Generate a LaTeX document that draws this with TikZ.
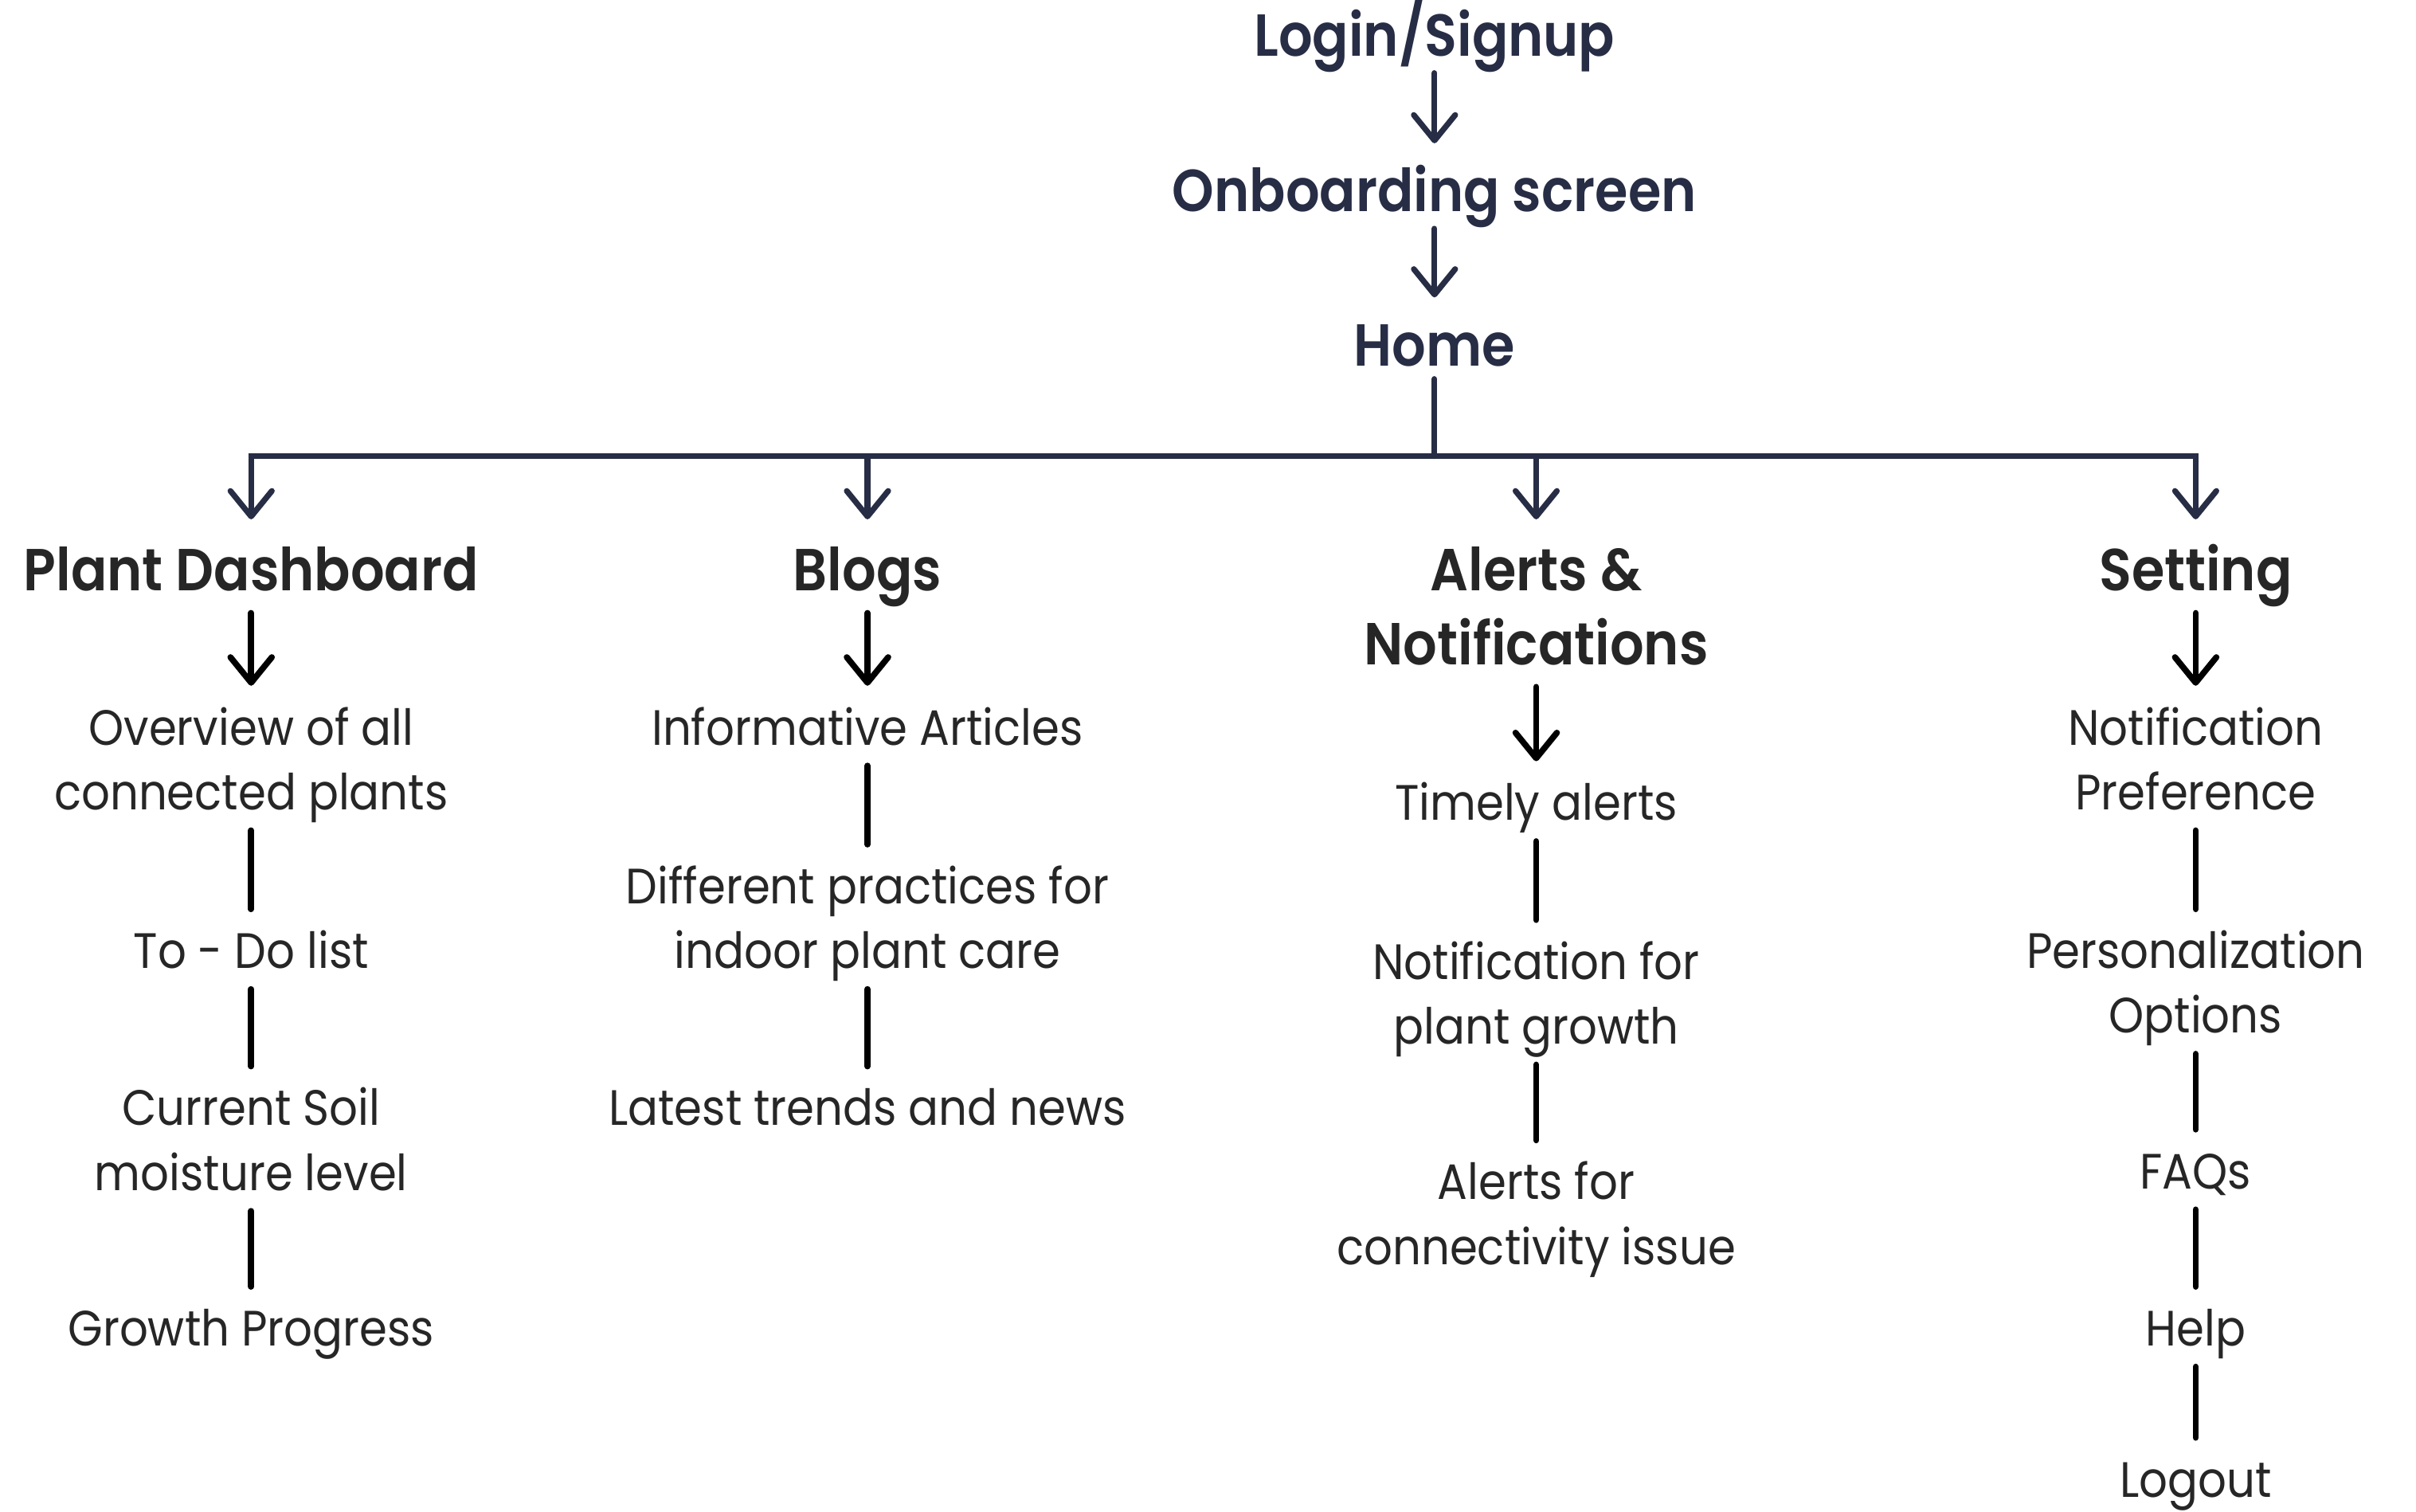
\documentclass[tikz,border=0pt]{standalone}
\usepackage{fontspec}
\usetikzlibrary{arrows.meta}
\definecolor{navy}{HTML}{272D45}
\definecolor{ink}{HTML}{262626}
\newfontfamily\bodyfont{Poppins}[FakeStretch=0.9]
\IfFontExistsTF{Poppins SemiBold}
  {\newfontfamily\headfont{Poppins SemiBold}[FakeStretch=0.9]}
  {\newfontfamily\headbase{Poppins}[FakeStretch=0.9]\newcommand{\headfont}{\headbase\bfseries}}
% Struts fix where each label box starts and ends, so the links meet the text evenly.
\newcommand{\navstrut}{\rule[-3.9pt]{0pt}{25.2pt}}
\newcommand{\headstrut}{\rule[-6.8pt]{0pt}{29pt}}
\newcommand{\itemstrut}{\rule[-6.3pt]{0pt}{24.7pt}}

\begin{document}
\begin{tikzpicture}[x=0.4836pt,y=-0.4836pt,
 nav/.style={font=\headfont\fontsize{18.6}{23.2}\selectfont,text=navy,
   align=center,anchor=north,inner xsep=2pt,inner ysep=0pt,
   execute at begin node=\navstrut,execute at end node=\navstrut},
 head/.style={font=\headfont\fontsize{18.6}{23.2}\selectfont,text=ink,
   align=center,anchor=north,inner xsep=2pt,inner ysep=0pt,
   execute at begin node=\headstrut,execute at end node=\headstrut},
 item/.style={font=\bodyfont\fontsize{15.6}{20.3}\selectfont,text=ink,
   align=center,anchor=north,inner xsep=2pt,inner ysep=0pt,
   execute at begin node=\itemstrut,execute at end node=\itemstrut},
 barb/.tip={Straight Barb[length=8pt,width=13pt,line cap=round,line join=round]},
 navline/.style={navy,line width=1.8pt,line cap=round},
 navarrow/.style={navline,-barb},
 link/.style={black,line width=1.9pt,line cap=round},
 itemarrow/.style={link,-barb}]
\useasboundingbox (0,0) rectangle (1568,981);

% Entry flow
\node[nav] (login) at (931,-8) {Login/Signup};
\node[nav] (onb) at (931,93) {Onboarding screen};
\node[nav] (home) at (931,193) {Home};
\draw[navarrow] (login.south) -- (onb.north);
\draw[navarrow] (onb.south) -- (home.north);

% Main sections (two-line labels carry their first strut in the text)
\node[head] (dash) at (163,337) {Plant Dashboard};
\node[head] (blogs) at (563,337) {Blogs};
\node[head] (alerts) at (997,337) {\headstrut Alerts \&\\Notifications};
\node[head] (sett) at (1425,337) {Setting};

\coordinate (bus) at (931,296);
\draw[navline] (home.south) -- (bus);
\draw[navarrow] (bus) -| (dash.north);
\draw[navarrow] (bus) -| (sett.north);
\draw[navarrow] (blogs.north |- bus) -- (blogs.north);
\draw[navarrow] (alerts.north |- bus) -- (alerts.north);

% Plant Dashboard
\node[item] (d1) at (163,445) {\itemstrut Overview of all\\connected plants};
\node[item] (d2) at (163,590) {To - Do list};
\node[item] (d3) at (163,692) {\itemstrut Current Soil\\moisture level};
\node[item] (d4) at (163,835) {Growth Progress};

% Blogs
\node[item] (b1) at (563,445) {Informative Articles};
\node[item] (b2) at (563,548) {\itemstrut Different practices for\\indoor plant care};
\node[item] (b3) at (563,692) {Latest trends and news};

% Alerts & Notifications
\node[item] (a1) at (997,494) {Timely alerts};
\node[item] (a2) at (997,597) {\itemstrut Notification for\\plant growth};
\node[item] (a3) at (997,740) {\itemstrut Alerts for\\connectivity issue};

% Setting
\node[item] (s1) at (1425,445) {\itemstrut Notification\\Preference};
\node[item] (s2) at (1425,590) {\itemstrut Personalization\\Options};
\node[item] (s3) at (1425,733) {FAQs};
\node[item] (s4) at (1425,835) {Help};
\node[item] (s5) at (1425,933) {Logout};

\foreach \a/\b in {dash/d1,blogs/b1,alerts/a1,sett/s1}
  \draw[itemarrow] (\a.south) -- (\b.north);
\foreach \a/\b in {d1/d2,d2/d3,d3/d4,b1/b2,b2/b3,a1/a2,a2/a3,s1/s2,s2/s3,s3/s4,s4/s5}
  \draw[link] (\a.south) -- (\b.north);
\end{tikzpicture}
\end{document}
